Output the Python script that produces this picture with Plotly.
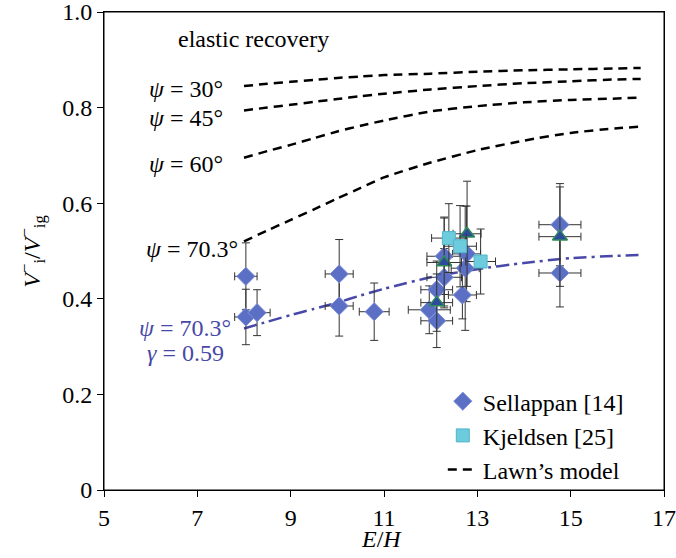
import plotly.graph_objects as go

# ---- data ----
model_x = [8, 8.5, 9, 9.5, 10, 10.5, 11, 12, 13, 14, 15, 16, 16.5]
psi30 = [0.845, 0.850, 0.854, 0.858, 0.862, 0.865, 0.868, 0.871, 0.875, 0.878, 0.880, 0.882, 0.883]
psi45 = [0.794, 0.800, 0.806, 0.812, 0.818, 0.824, 0.829, 0.838, 0.845, 0.851, 0.855, 0.859, 0.860]
psi60 = [0.695, 0.709, 0.722, 0.736, 0.750, 0.762, 0.773, 0.792, 0.803, 0.811, 0.816, 0.819, 0.821]
psi703 = [0.520, 0.543, 0.565, 0.587, 0.610, 0.632, 0.654, 0.685, 0.711, 0.731, 0.747, 0.757, 0.760]
gamma059 = [0.338, 0.352, 0.366, 0.379, 0.392, 0.407, 0.421, 0.445, 0.462, 0.475, 0.485, 0.490, 0.492]

sell_x = [8.04, 8.04, 8.28, 10.04, 10.04, 10.79, 11.97, 12.13, 12.13, 12.29, 12.29, 12.68, 12.74, 12.77, 14.77, 14.77]
sell_y = [0.447, 0.362, 0.371, 0.452, 0.385, 0.373, 0.377, 0.419, 0.354, 0.445, 0.489, 0.408, 0.464, 0.494, 0.555, 0.454]
sell_ex = [0.24, 0.24, 0.28, 0.30, 0.30, 0.32, 0.45, 0.34, 0.34, 0.37, 0.37, 0.30, 0.30, 0.30, 0.45, 0.45]
sell_ey = [0.070, 0.058, 0.048, 0.072, 0.063, 0.060, 0.050, 0.060, 0.056, 0.060, 0.080, 0.050, 0.130, 0.100, 0.086, 0.071]

tri_x = [12.13, 12.29, 12.78, 14.77]
tri_y = [0.392, 0.476, 0.536, 0.530]
tri_ex = [0.34, 0.37, 0.30, 0.45]
tri_ey = [0.060, 0.095, 0.110, 0.104]

sq_x = [12.39, 12.63, 13.07]
sq_y = [0.527, 0.510, 0.478]
sq_ex = [0.37, 0.35, 0.32]
sq_ey = [0.072, 0.085, 0.068]

x_ticks = [5, 7, 9, 11, 13, 15, 17]
y_ticks = [0, 0.2, 0.4, 0.6, 0.8, 1.0]
y_ticktext = ["0", "0.2", "0.4", "0.6", "0.8", "1.0"]

FONT = "Liberation Serif"
BLUE = "#4848a8"

fig = go.Figure()

for i, ys in enumerate([psi30, psi45, psi60, psi703]):
    fig.add_trace(go.Scatter(
        x=model_x, y=ys, mode="lines", name="Lawn\u2019s model",
        line=dict(color="black", width=2.5, dash="9px,6px", shape="spline", smoothing=0.6),
        showlegend=(i == 0), legendrank=3))

fig.add_trace(go.Scatter(
    x=model_x, y=gamma059, mode="lines", showlegend=False,
    line=dict(color=BLUE, width=2.5, dash="13px,5px,3px,5px", shape="spline", smoothing=0.6)))

err_style = dict(color="#333333", thickness=1, width=4)

fig.add_trace(go.Scatter(
    x=sell_x, y=sell_y, mode="markers", name="Sellappan [14]", legendrank=1,
    marker=dict(symbol="diamond", size=14, color="#5b6fc5", line=dict(color="#7f90d8", width=1)),
    error_x=dict(type="data", array=sell_ex, **err_style),
    error_y=dict(type="data", array=sell_ey, **err_style)))

fig.add_trace(go.Scatter(
    x=tri_x, y=tri_y, mode="markers", name="triangles", showlegend=False,
    marker=dict(symbol="triangle-up", size=13, color="#2d4a9c", line=dict(color="#2e8b57", width=1.5)),
    error_x=dict(type="data", array=tri_ex, **err_style),
    error_y=dict(type="data", array=tri_ey, **err_style)))

fig.add_trace(go.Scatter(
    x=sq_x, y=sq_y, mode="markers", name="Kjeldsen [25]", legendrank=2,
    marker=dict(symbol="square", size=13, color="#6ccbdc", line=dict(color="#52b5ca", width=1)),
    error_x=dict(type="data", array=sq_ex, **err_style),
    error_y=dict(type="data", array=sq_ey, **err_style)))

ann_font = dict(family=FONT, size=24, color="black")
annotations = [
    dict(x=6.54, y=0.944, text="elastic recovery", xanchor="left", yanchor="middle"),
    dict(x=7.6, y=0.838, text="<i>\u03c8</i> = 30\u00b0", xanchor="right", yanchor="middle"),
    dict(x=7.6, y=0.779, text="<i>\u03c8</i> = 45\u00b0", xanchor="right", yanchor="middle"),
    dict(x=7.6, y=0.681, text="<i>\u03c8</i> = 60\u00b0", xanchor="right", yanchor="middle"),
    dict(x=7.92, y=0.505, text="<i>\u03c8</i> = 70.3\u00b0", xanchor="right", yanchor="middle"),
]
for a in annotations:
    a.update(xref="x", yref="y", showarrow=False, font=ann_font)
annotations += [
    dict(x=6.74, y=0.339, text="<i>\u03c8</i> = 70.3\u00b0", xref="x", yref="y", showarrow=False,
         xanchor="center", yanchor="middle", font=dict(family=FONT, size=24, color=BLUE)),
    dict(x=6.74, y=0.287, text="<i>\u03b3</i> = 0.59", xref="x", yref="y", showarrow=False,
         xanchor="center", yanchor="middle", font=dict(family=FONT, size=24, color=BLUE)),
    dict(x=0.495, y=-0.103, text="<i>E</i>/<i>H</i>", xref="paper", yref="paper", showarrow=False,
         xanchor="center", yanchor="middle", font=ann_font),
    dict(x=-0.129, y=0.5, text="<i>V</i><sup>\u2212</sup><sub>i</sub>/<i>V</i><sup>\u2212</sup><sub>ig</sub>",
         xref="paper", yref="paper", showarrow=False, textangle=-90,
         xanchor="center", yanchor="middle", font=ann_font),
]

axis_common = dict(showline=True, linecolor="black", linewidth=1, mirror=True,
                   ticks="outside", ticklen=6, tickcolor="black", showgrid=False,
                   zeroline=False, automargin=False, ticklabeloverflow="allow",
                   tickfont=dict(family=FONT, size=24, color="black"))

fig.update_layout(
    width=676, height=558,
    margin=dict(l=104, r=12, t=12, b=68, autoexpand=False),
    paper_bgcolor="white", plot_bgcolor="white",
    showlegend=True,
    legend=dict(x=0.605, y=0.232, xanchor="left", yanchor="top",
                bgcolor="rgba(0,0,0,0)", font=dict(family=FONT, size=24, color="black"),
                tracegroupgap=0, traceorder="normal"),
    xaxis=dict(range=[5, 17], tickvals=x_ticks, **axis_common),
    yaxis=dict(range=[0, 1.0], tickvals=y_ticks, ticktext=y_ticktext, **axis_common),
    annotations=annotations,
    shapes=[dict(type="rect", xref="paper", yref="paper", x0=0, y0=0, x1=1, y1=1,
                 line=dict(color="black", width=1), fillcolor="rgba(0,0,0,0)", layer="above")],
)

fig.write_html(
    "out.html",
    config={"displayModeBar": False},
    post_script="document.body.style.margin='0';document.body.style.padding='0';"
                "document.documentElement.style.overflow='hidden';",
)
